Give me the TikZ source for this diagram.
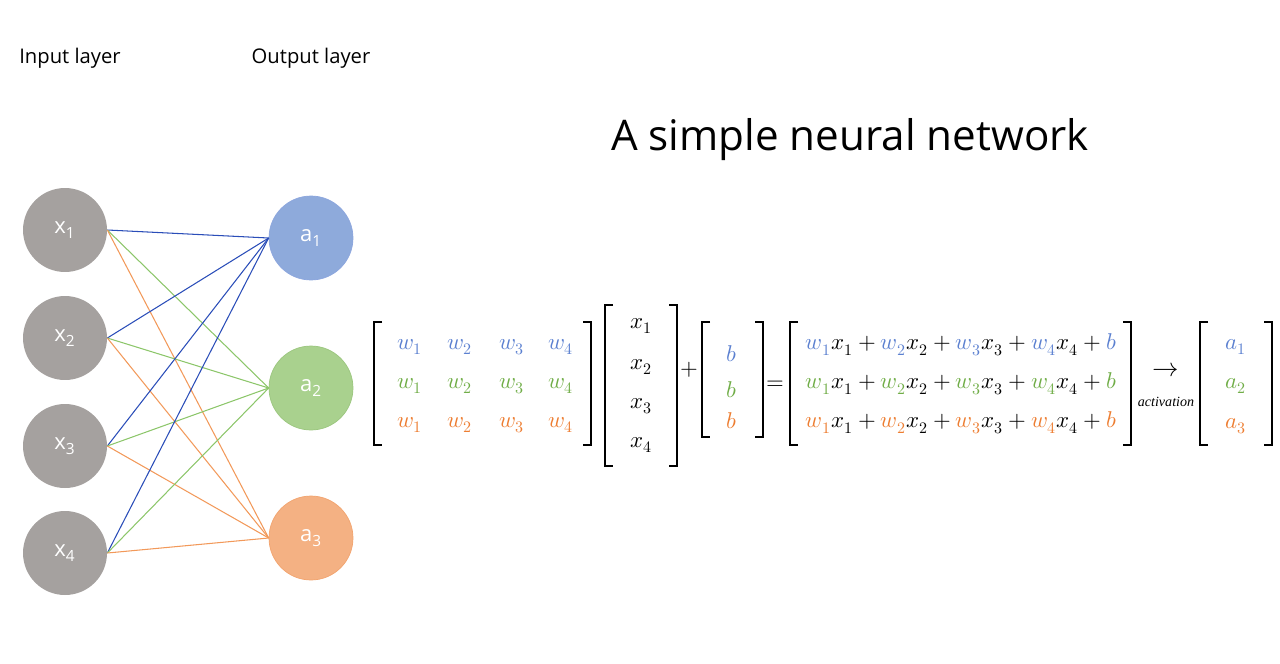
\documentclass[tikz,border=0pt]{standalone}
\usepackage{fontspec}
\setmainfont{Open Sans}
\usepackage{unicode-math}
\setmathfont{Latin Modern Math}
\definecolor{cg}{HTML}{A5A19F}
\definecolor{cb}{HTML}{8EAADB}
\definecolor{cgr}{HTML}{A9D18E}
\definecolor{co}{HTML}{F4B183}
\definecolor{mb}{HTML}{5B80D0}
\definecolor{mg}{HTML}{70AD47}
\definecolor{mo}{HTML}{ED7D31}
\definecolor{lb}{HTML}{2A4DB8}
\definecolor{lg}{HTML}{8CC66A}
\definecolor{lo}{HTML}{F2995A}
\newcommand{\Bl}[4]{\draw[line width=1.2pt] (#1+8,#3)--(#1,#3)--(#1,#4)--(#1+8,#4); \draw[line width=1.2pt] (#2-8,#3)--(#2,#3)--(#2,#4)--(#2-8,#4);}
\newcommand{\rowx}[1]{\textcolor{#1}{w_1}x_1+\textcolor{#1}{w_2}x_2+\textcolor{#1}{w_3}x_3+\textcolor{#1}{w_4}x_4+\textcolor{#1}{b}}
\begin{document}
\begin{tikzpicture}[x=0.02cm,y=-0.02cm,
  neur/.style={circle,minimum size=1.68cm,inner sep=0,text=white,font=\fontsize{12.5}{14}\selectfont},
  lbl/.style={font=\fontsize{11.5}{14}\selectfont},
  m/.style={font=\fontsize{13}{15}\selectfont,inner sep=0},
  edge/.style={line width=0.6pt}]
\useasboundingbox (0,0) rectangle (1280,663);
\node[lbl] (il) at (70,58) {Input layer};
\node[lbl] (ol) at (311,58) {Output layer};
\node[font=\fontsize{24}{28}\selectfont] (title) at (850,140) {A simple neural network};
\foreach \i/\y in {1/230,2/338,3/446,4/553}
  \node[neur,fill=cg] (x\i) at (65,\y) {x\textsubscript{\i}};
\node[neur,fill=cb,draw=mb!70,line width=0.4pt] (a1) at (311,238) {a\textsubscript{1}};
\node[neur,fill=cgr,draw=mg!70,line width=0.4pt] (a2) at (311,388) {a\textsubscript{2}};
\node[neur,fill=co,draw=mo!70,line width=0.4pt] (a3) at (311,538) {a\textsubscript{3}};
\foreach \i in {1,...,4}{
  \draw[edge,lb] (x\i.east) -- (a1.west);
  \draw[edge,lg] (x\i.east) -- (a2.west);
  \draw[edge,lo] (x\i.east) -- (a3.west);
}
% W matrix
\Bl{374}{591}{322}{445}
\foreach \r/\y/\c in {1/347/mb,2/386/mg,3/425/mo}
  \foreach \k/\x in {1/410,2/460,3/512,4/561}
    \node[m,text=\c] (w\r\k) at (\x,\y) {$w_{\k}$};
% x vector
\Bl{605}{677}{305}{466}
\foreach \k/\y in {1/326,2/367,3/406,4/445}
  \node[m] (v\k) at (641,\y) {$x_{\k}$};
\node[m] (plus) at (689,370) {$+$};
\Bl{702}{763}{322}{437}
\node[m,text=mb] (b1) at (732,354) {$b$};
\node[m,text=mg] (b2) at (732,390) {$b$};
\node[m,text=mo] (b3) at (732,421) {$b$};
\node[m] (eq) at (775,385) {$=$};
\Bl{790}{1131}{322}{445}
\node[m] (r1) at (961,345) {$\rowx{mb}$};
\node[m] (r2) at (961,384) {$\rowx{mg}$};
\node[m] (r3) at (961,423) {$\rowx{mo}$};
\node[m,font=\fontsize{15}{17}\selectfont] (arr) at (1166,370) {$\rightarrow$};
\node[inner sep=0] (act) at (1166,402) {\fontspec{Liberation Serif}\fontsize{8}{10}\selectfont\itshape activation};
\Bl{1200}{1272}{322}{445}
\node[m,text=mb] (o1) at (1236,347) {$a_1$};
\node[m,text=mg] (o2) at (1236,386) {$a_2$};
\node[m,text=mo] (o3) at (1236,426) {$a_3$};
\end{tikzpicture}
\end{document}
